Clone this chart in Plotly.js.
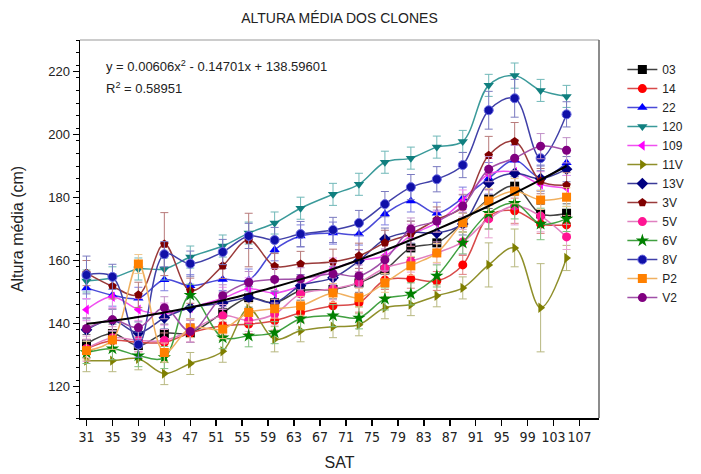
<!DOCTYPE html>
<html>
<head>
<meta charset="utf-8">
<script src="https://cdn.plot.ly/plotly-3.0.1.min.js"></script>
<style>html,body{margin:0;padding:0;background:#fff;}#chart{width:701px;height:474px;}</style>
</head>
<body>
<div id="chart"></div>
<script>
// SAT (x) values of the measurements
const sat = [31, 35, 39, 43, 47, 52, 56, 60, 64, 69, 73, 77, 81, 85, 89, 93, 97, 101, 105];
const xTicks = [31, 35, 39, 43, 47, 51, 55, 59, 63, 67, 71, 75, 79, 83, 87, 91, 95, 99, 103, 107];
const yTicks = [120, 140, 160, 180, 200, 220];

// Series names (legend order)
const names = ["03", "14", "22", "120", "109", "11V", "13V", "3V", "5V", "6V", "8V", "P2", "V2"];

// Mean heights (cm)
const s03  = [133.5, 136.8, 133.0, 136.8, 137.0, 143.4, 148.2, 146.6, 150.4, 150.8, 152.9, 157.0, 164.0, 165.6, 172.0, 179.5, 183.6, 174.8, 175.0];
const s14  = [132.0, 134.6, 134.0, 134.0, 137.0, 139.3, 139.8, 140.9, 143.4, 145.6, 146.6, 153.8, 154.2, 153.5, 158.6, 174.0, 175.8, 171.6, 171.3];
const s22  = [151.3, 149.0, 148.0, 153.9, 152.0, 154.0, 153.8, 163.4, 167.8, 168.7, 168.4, 174.8, 178.9, 175.0, 179.8, 186.1, 191.8, 186.3, 191.0];
const s120 = [153.5, 154.5, 157.3, 157.3, 161.1, 164.6, 168.7, 171.9, 176.6, 181.0, 184.2, 191.2, 192.5, 196.0, 197.8, 215.6, 218.7, 214.0, 212.1];
const s109 = [144.4, 148.5, 144.4, 143.0, 145.0, 148.0, 151.0, 149.7, 152.0, 157.3, 160.0, 161.5, 168.0, 172.0, 178.9, 187.4, 188.0, 184.2, 183.0];
const s11V = [128.2, 128.2, 128.8, 124.1, 127.3, 131.2, 144.7, 135.0, 137.7, 139.0, 139.6, 145.0, 146.0, 148.8, 151.3, 158.6, 164.0, 145.0, 160.8];
const s13V = [138.0, 141.0, 137.0, 141.8, 145.0, 146.5, 148.2, 146.6, 152.0, 154.5, 159.9, 166.8, 169.0, 168.7, 171.6, 184.6, 187.7, 186.0, 189.0];
const s3V  = [156.0, 151.8, 149.1, 165.2, 150.4, 158.3, 166.5, 158.2, 158.9, 159.6, 161.5, 165.6, 168.5, 173.0, 177.0, 193.4, 197.8, 185.2, 183.9];
const s5V  = [132.0, 135.5, 134.6, 134.6, 137.7, 142.5, 141.0, 143.0, 149.4, 151.0, 153.0, 157.6, 159.8, 162.4, 165.9, 173.2, 177.3, 174.1, 167.5];
const s6V  = [130.8, 132.0, 129.8, 129.2, 149.0, 135.5, 136.1, 137.1, 141.5, 142.5, 141.8, 147.8, 149.4, 155.1, 165.6, 175.0, 178.2, 171.6, 173.2];
const s8V  = [155.4, 154.8, 133.3, 162.0, 159.0, 162.7, 167.8, 166.5, 168.4, 169.7, 171.9, 177.9, 183.3, 185.8, 190.3, 207.7, 211.5, 192.5, 206.4];
const sP2  = [131.4, 134.8, 158.9, 130.8, 138.5, 138.2, 143.5, 144.7, 145.6, 149.7, 148.2, 152.9, 158.3, 162.4, 172.0, 178.9, 182.0, 179.2, 180.1];
const sV2  = [138.4, 141.2, 138.7, 145.0, 137.5, 148.8, 153.0, 154.0, 154.2, 155.8, 155.1, 160.2, 170.0, 172.5, 177.3, 189.0, 192.5, 196.3, 195.0];

// Error bar half-widths (cm)
const e03  = [3, 3, 3, 3, 3, 3, 3, 3, 3, 3, 3, 3, 3, 3, 3, 3, 3, 3, 3];
const e14  = [3, 3, 3, 3, 3, 3, 3, 3, 3, 3, 3, 3, 3, 3, 3, 4, 4, 3, 3];
const e22  = [3.5, 3.5, 3.5, 3.5, 3.5, 3.5, 3.5, 3.5, 3.5, 3.5, 3.5, 3.5, 3.5, 3.5, 3.5, 5, 5, 4, 4];
const e120 = [3.5, 3.5, 3.5, 3.5, 3.5, 3.5, 3.5, 3.5, 3.5, 3.5, 3.5, 3.5, 3.5, 3.5, 3.5, 3.5, 4, 3.5, 3.5];
const e109 = [3.5, 3.5, 3.5, 3.5, 3.5, 3.5, 3.5, 3.5, 3.5, 3.5, 3.5, 3.5, 3.5, 3.5, 3.5, 5, 5, 4, 4];
const e11V = [3.5, 3.5, 3.5, 3.5, 3.5, 3.5, 4, 4, 3.5, 3.5, 3.5, 3.5, 3.5, 3.5, 3.5, 7, 6, 14, 4];
const e13V = [3.5, 3.5, 3.5, 3.5, 3.5, 3.5, 3.5, 3.5, 3.5, 3.5, 3.5, 3.5, 3.5, 3.5, 3.5, 5, 5, 4, 4];
const e3V  = [4, 4, 4, 10, 4, 4, 8.5, 4, 4, 4, 4, 4, 4, 4, 4, 6, 6, 4, 4];
const e5V  = [4, 3.5, 3.5, 3.5, 3.5, 3.5, 3.5, 3.5, 3.5, 3.5, 3.5, 3.5, 3.5, 3.5, 4, 6, 6, 5, 4];
const e6V  = [3.5, 3.5, 3.5, 3.5, 3.5, 3.5, 3.5, 3.5, 3.5, 3.5, 3.5, 3.5, 3.5, 3.5, 3.5, 5, 5, 5, 4];
const e8V  = [6, 4, 4, 4, 4, 4, 4, 4, 4, 4, 4, 4, 4, 4, 4, 6, 6, 4, 4];
const eP2  = [3, 3, 3, 3, 3, 3, 3, 3, 3, 3, 3, 3, 3, 3, 3, 4, 4, 3, 3];
const eV2  = [3.5, 3.5, 3.5, 3.5, 3.5, 3.5, 3.5, 3.5, 3.5, 3.5, 3.5, 3.5, 3.5, 3.5, 3.5, 4, 4, 4, 4];

// Polynomial fit curve values
const fitY = [139.9, 140.9, 142.1, 143.5, 145.1, 147.3, 149.4, 151.6, 154.0, 157.3, 160.2, 163.2, 166.5, 169.9, 173.5, 177.3, 181.4, 185.6, 190.0];

const values = [s03, s14, s22, s120, s109, s11V, s13V, s3V, s5V, s6V, s8V, sP2, sV2];
const errors = [e03, e14, e22, e120, e109, e11V, e13V, e3V, e5V, e6V, e8V, eP2, eV2];

const styles = [
  {sym: "square",         mc: "#000000", lc: "#404040", ec: "#707070"},
  {sym: "circle",         mc: "#ff0000", lc: "#d84a4a", ec: "#e08080"},
  {sym: "triangle-up",    mc: "#0000ff", lc: "#4a4ad8", ec: "#8080e0"},
  {sym: "triangle-down",  mc: "#107f7f", lc: "#3a9a9a", ec: "#70b8b8"},
  {sym: "triangle-left",  mc: "#ff00ff", lc: "#f050f0", ec: "#f090f0"},
  {sym: "triangle-right", mc: "#7f7f00", lc: "#8f8f2a", ec: "#b8b880"},
  {sym: "diamond",        mc: "#000080", lc: "#3a3a98", ec: "#7a7ab8"},
  {sym: "pentagon",       mc: "#800000", lc: "#9a3a3a", ec: "#b87a7a"},
  {sym: "circle",         mc: "#ff1493", lc: "#e080c0", ec: "#e8a0d0"},
  {sym: "star",           mc: "#008000", lc: "#40a040", ec: "#80c080"},
  {sym: "circle",         mc: "#1010a8", lc: "#4040a8", ec: "#7a7ac0"},
  {sym: "square",         mc: "#ff8000", lc: "#f0b060", ec: "#f0c890"},
  {sym: "circle",         mc: "#800080", lc: "#a050a8", ec: "#c090c8"}
];

const traces = names.map((n, i) => ({
  type: "scatter",
  mode: "lines+markers",
  name: n,
  x: sat,
  y: values[i],
  line: {color: styles[i].lc, width: 1.5, shape: "spline", smoothing: 1},
  marker: {symbol: styles[i].sym, color: styles[i].mc, size: n === "6V" ? 10 : 9,
           line: {width: n === "8V" ? 1 : 0, color: "#6a6ae0"}},
  error_y: {type: "data", array: errors[i], visible: true, color: styles[i].ec, thickness: 1, width: 4}
}));

traces.push({
  type: "scatter",
  mode: "lines",
  x: sat,
  y: fitY,
  showlegend: false,
  hoverinfo: "skip",
  line: {color: "#000000", width: 2, shape: "spline"}
});

const layout = {
  width: 701,
  height: 474,
  paper_bgcolor: "#ffffff",
  plot_bgcolor: "#ffffff",
  margin: {l: 80, r: 90, t: 40, b: 56},
  font: {family: "Liberation Sans, Arial, sans-serif", color: "#222"},
  title: {text: "ALTURA MÉDIA DOS CLONES", font: {size: 14, color: "#222"}, x: 0.5, xref: "paper", xanchor: "center", y: 0.962, yanchor: "middle"},
  xaxis: {
    range: [30, 110],
    tickmode: "array",
    tickvals: xTicks,
    ticktext: xTicks.map(String),
    tickangle: 0,
    ticks: "outside", ticklen: 6, tickwidth: 1.5, tickcolor: "#000",
    showline: true, linecolor: "#000", linewidth: 1.5,
    showgrid: false, zeroline: false,
    tickfont: {family: "Liberation Sans Narrow, DejaVu Sans Condensed, Arial Narrow, sans-serif", size: 14, color: "#222"},
    title: {text: "SAT", font: {size: 16, color: "#222"}, standoff: 12}
  },
  yaxis: {
    range: [110, 230],
    tickmode: "array",
    tickvals: yTicks,
    ticktext: yTicks.map(String),
    ticks: "outside", ticklen: 6, tickwidth: 1.5, tickcolor: "#000",
    minor: {dtick: 4, tick0: 110, ticks: "outside", ticklen: 3, tickcolor: "#000", tickwidth: 1, showgrid: false},
    showline: true, linecolor: "#000", linewidth: 1.5,
    showgrid: false, zeroline: false,
    tickfont: {size: 13, color: "#222"},
    title: {text: "Altura média (cm)", font: {size: 16, color: "#222"}, standoff: 20}
  },
  legend: {
    x: 1.045, y: 0.96, xanchor: "left", yanchor: "top",
    font: {size: 12, color: "#222"},
    bgcolor: "rgba(0,0,0,0)",
    itemwidth: 30,
    tracegroupgap: 0
  },
  shapes: [
    {type: "line", xref: "paper", yref: "paper", x0: 0, x1: 1, y0: 1, y1: 1, line: {color: "#999", width: 1}},
    {type: "line", xref: "paper", yref: "paper", x0: 1, x1: 1, y0: 0, y1: 1, line: {color: "#666", width: 1.5}}
  ],
  annotations: [
    {xref: "paper", yref: "paper", x: 0.047, y: 0.93, xanchor: "left", yanchor: "middle", showarrow: false,
     text: "y = 0.00606x<sup>2</sup> - 0.14701x + 138.59601", font: {size: 13, color: "#222"}},
    {xref: "paper", yref: "paper", x: 0.047, y: 0.873, xanchor: "left", yanchor: "middle", showarrow: false,
     text: "R<sup>2</sup> = 0.58951", font: {size: 13, color: "#222"}}
  ],
  showlegend: true
};

Plotly.newPlot("chart", traces, layout, {displayModeBar: false, staticPlot: true});
</script>
</body>
</html>
